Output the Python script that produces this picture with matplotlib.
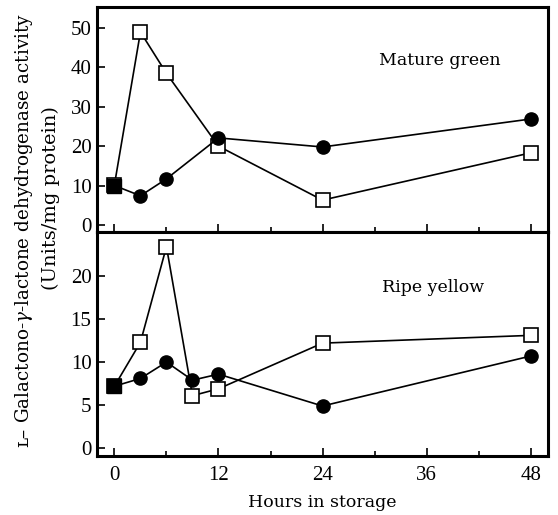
import matplotlib
matplotlib.use("Agg")
import matplotlib.pyplot as plt
from matplotlib.ticker import MultipleLocator

plt.rcParams['font.family'] = ['Liberation Serif', 'DejaVu Serif']
plt.rcParams['mathtext.fontset'] = 'dejavuserif'

# Mature green
mg_hours = [0, 3, 6, 12, 24, 48]
mg_open = [10.2, 49.0, 38.5, 20.0, 6.3, 18.3]
mg_filled = [10.0, 7.4, 11.7, 22.1, 19.8, 26.9]

# Ripe yellow
ry_hours = [0, 3, 6, 9, 12, 24, 48]
ry_open = [7.2, 12.3, 23.4, 6.1, 6.9, 12.2, 13.1]
ry_filled = [7.2, 8.1, 10.0, 7.9, 8.6, 4.9, 10.7]

x_ticks = [0, 12, 24, 36, 48]
mg_yticks = [0, 10, 20, 30, 40, 50]
ry_yticks = [0, 5, 10, 15, 20]

LBL = ['DejaVu Serif', 'DejaVu Sans']

fig = plt.figure(figsize=(5.58, 5.15), dpi=100)
ax1 = fig.add_axes([0.174, 0.5495, 0.808, 0.4365])
ax2 = fig.add_axes([0.174, 0.1146, 0.808, 0.4349])

def draw(ax, hrs, op, fi, label, ylim, yticks, lx, ly):
    ax.plot(hrs, op, color='black', lw=1.2, marker='s', ms=10.5,
            mfc='white', mec='black', mew=1.2, zorder=3)
    ax.plot(hrs, fi, color='black', lw=1.2, marker='o', ms=9.5,
            mfc='black', mec='black', zorder=4)
    ax.plot([hrs[0]], [fi[0]], marker='s', ms=10.5, color='black', ls='none', zorder=5)
    ax.set_xlim(-2, 50)
    ax.set_ylim(*ylim)
    ax.set_yticks(yticks)
    ax.set_xticks(x_ticks)
    ax.xaxis.set_minor_locator(MultipleLocator(6))
    ax.tick_params(axis='both', which='major', direction='in', length=6, width=1.2,
                   labelsize=15)
    ax.tick_params(axis='x', which='minor', direction='in', length=3.5, width=1.2)
    ax.tick_params(axis='y', which='major', pad=4)
    for s in ax.spines.values():
        s.set_linewidth(2.2)
    ax.text(lx, ly, label, transform=ax.transAxes, ha='center', va='center',
            fontsize=12.5, family=LBL)

draw(ax1, mg_hours, mg_open, mg_filled, 'Mature green', (-1.8, 55.3), mg_yticks, 0.76, 0.764)
draw(ax2, ry_hours, ry_open, ry_filled, 'Ripe yellow', (-0.9, 25.1), ry_yticks, 0.745, 0.754)
ax1.tick_params(axis='x', labelbottom=False)
ax2.tick_params(axis='x', pad=7)
ax2.set_xlabel('Hours in storage', fontsize=12.5, labelpad=7, family=LBL)

fig.text(0.043, 1 - 230 / 515, 'ʟ\u2013 Galactono-$\\gamma$-lactone dehydrogenase activity',
         rotation=90, ha='center', va='center', fontsize=13.2, family=LBL)
fig.text(0.092, 1 - 198 / 515, '(Units/mg protein)', rotation=90, ha='center', va='center',
         fontsize=14, family=LBL)

fig.savefig('out.png', dpi=100)
